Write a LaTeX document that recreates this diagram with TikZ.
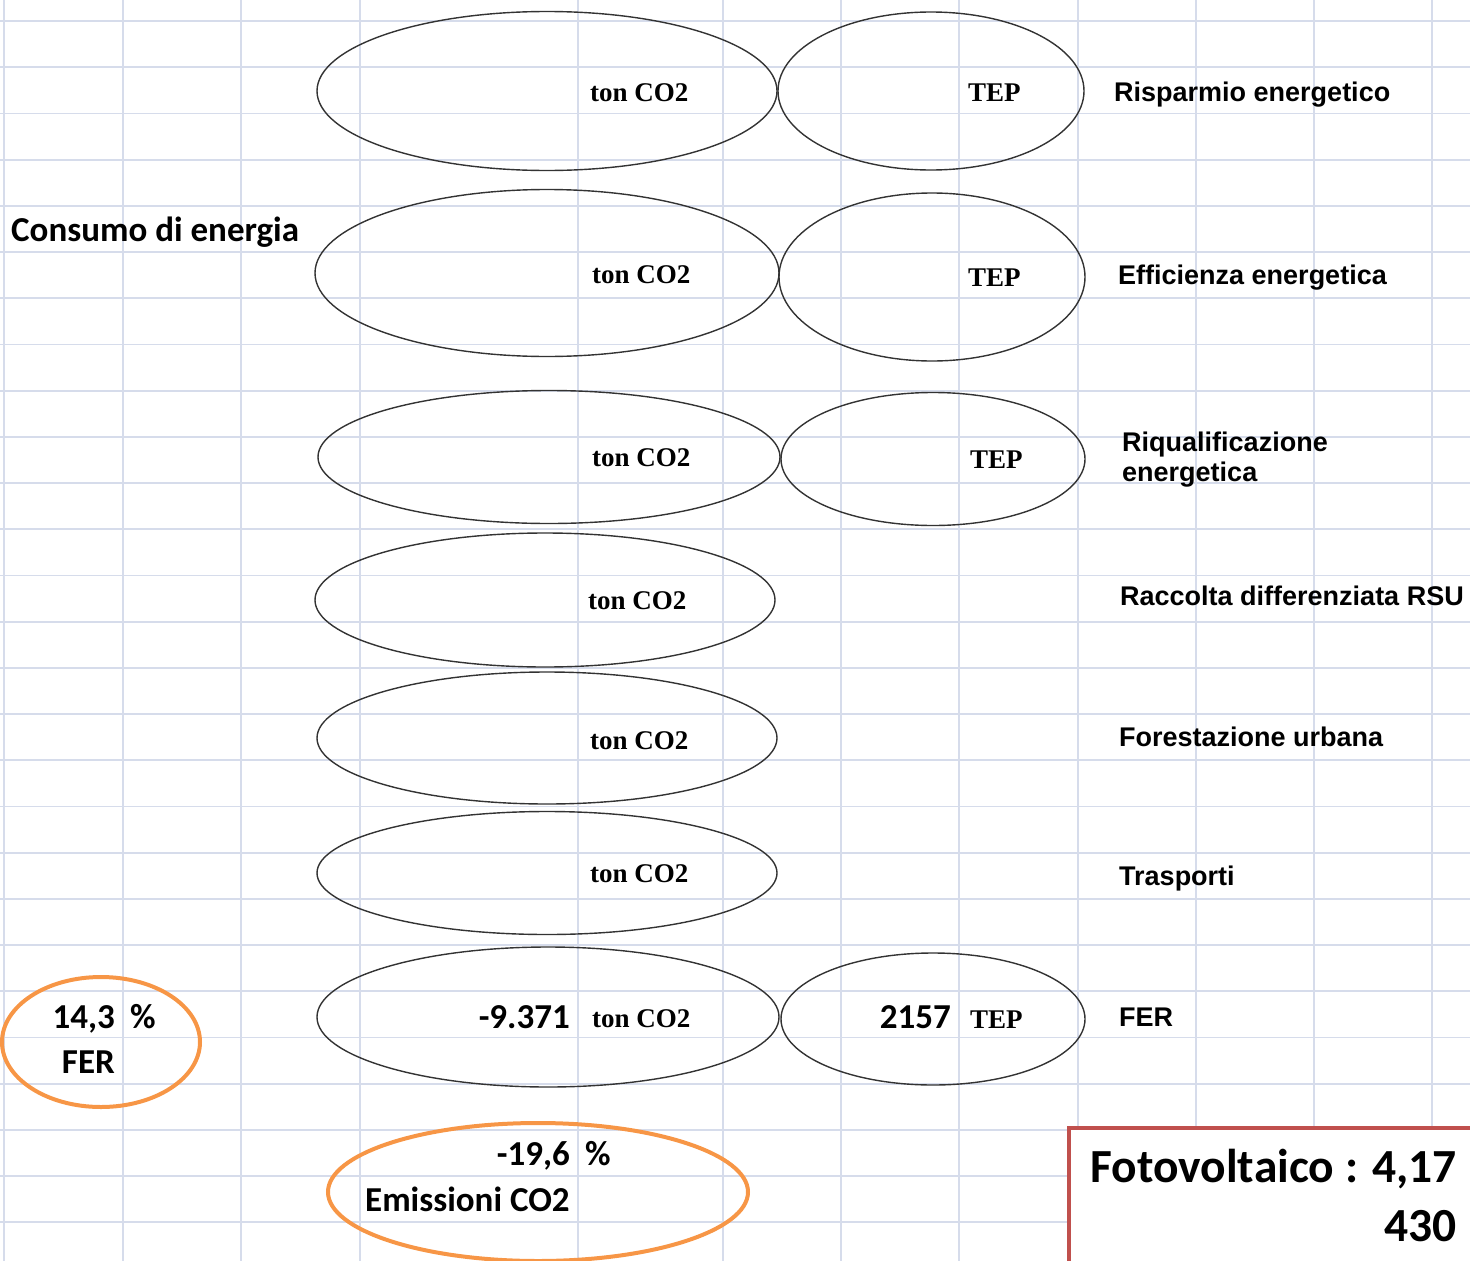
\documentclass[tikz,border=0pt]{standalone}
\usepackage{fontspec}
\setmainfont{Carlito}
\newfontfamily\catfont{Liberation Sans}
\newfontfamily\unitfont{Liberation Serif}
\usetikzlibrary{shapes.geometric,positioning}
\definecolor{gridblue}{RGB}{214,220,235}
\definecolor{ringorange}{RGB}{247,150,70}
\definecolor{boxred}{RGB}{192,80,77}

\begin{document}
\begin{tikzpicture}[x=1pt, y=-1pt,
    gridline/.style={draw=gridblue, line width=1.8pt},
    oval/.style={draw=black!80, ellipse, line width=1.4pt, inner sep=0pt},
    ring/.style={draw=ringorange, ellipse, line width=4pt, inner sep=0pt},
    unittext/.style={font=\unitfont\bfseries\fontsize{27}{30}\selectfont, inner sep=0pt, anchor=base west},
    catlabel/.style={font=\catfont\bfseries\fontsize{27}{32}\selectfont, inner sep=0pt, anchor=base west},
    numtext/.style={font=\bfseries\fontsize{35}{38}\selectfont, inner sep=0pt, anchor=base east},
    plaintext/.style={font=\bfseries\fontsize{35}{38}\selectfont, inner sep=0pt, anchor=base west},
    pvtext/.style={font=\bfseries\fontsize{47.5}{50}\selectfont, inner sep=0pt, anchor=base east}]

\useasboundingbox (0,0) rectangle (1470,1261);
\clip (0,0) rectangle (1470,1261);

\foreach \gx in {4,123,241,360,578,723,841,959,1078,1196,1314,1432}
  \draw[gridline] (\gx,0) -- (\gx,1261);
\foreach \k in {0,...,26}
  \draw[gridline] (0,{21+46.2*\k}) -- (1470,{21+46.2*\k});

\node[oval, minimum width=460pt, minimum height=159pt] (co2risp) at (547,91) {};
\node[oval, minimum width=306pt, minimum height=158pt] (teprisp) at (931,91) {};
\node[oval, minimum width=464pt, minimum height=167pt] (co2eff) at (547,273) {};
\node[oval, minimum width=306pt, minimum height=168pt] (tepeff) at (932,277) {};
\node[oval, minimum width=462pt, minimum height=133pt] (co2riq) at (549,457) {};
\node[oval, minimum width=304pt, minimum height=133pt] (tepriq) at (933,459) {};
\node[oval, minimum width=460pt, minimum height=134pt] (co2rsu) at (545,600) {};
\node[oval, minimum width=460pt, minimum height=132pt] (co2for) at (547,738) {};
\node[oval, minimum width=460pt, minimum height=123pt] (co2tra) at (547,873) {};
\node[oval, minimum width=462pt, minimum height=140pt] (co2fer) at (548,1017) {};
\node[oval, minimum width=304pt, minimum height=132pt] (tepfer) at (933,1019) {};

\node[ring, minimum width=198pt, minimum height=130pt] (ringfer) at (101,1042) {};
\node[ring, minimum width=420pt, minimum height=138pt] (ringco2) at (538,1192) {};

\node[draw=boxred, line width=4pt, fill=white, anchor=north west,
      minimum width=430pt, minimum height=160pt] (pvbox) at (1067,1126) {};

\node[unittext] (u1) at (590,101) {ton CO2};
\node[unittext] (u2) at (592,283) {ton CO2};
\node[unittext] (u3) at (592,466) {ton CO2};
\node[unittext] (u4) at (588,609) {ton CO2};
\node[unittext] (u5) at (590,749) {ton CO2};
\node[unittext] (u6) at (590,882) {ton CO2};
\node[unittext] (u7) at (592,1027) {ton CO2};
\node[unittext] (t1) at (968,101) {TEP};
\node[unittext] (t2) at (968,286) {TEP};
\node[unittext] (t3) at (970,468) {TEP};
\node[unittext] (t7) at (970,1028) {TEP};

\node[catlabel] (risp) at (1114,101) {Risparmio energetico};
\node[catlabel] (eff) at (1118,284) {Efficienza energetica};
\node[catlabel] (riq) at (1122,451) {Riqualificazione};
\node[catlabel] (riq2) at (1122,481) {energetica};
\node[catlabel] (rsu) at (1120,605) {Raccolta differenziata RSU};
\node[catlabel] (fore) at (1119,746) {Forestazione urbana};
\node[catlabel] (trasp) at (1119,885) {Trasporti};
\node[catlabel] (fer) at (1119,1026) {FER};

\node[plaintext] (consumo) at (11,241) {Consumo di energia};

\node[numtext] (co2val) at (570,1028) {-9.371};
\node[numtext] (tepval) at (951,1028) {2157};

\node[numtext] (ferval) at (115,1028) {14,3};
\node[plaintext] (ferpct) at (130,1028) {\%};
\node[numtext] (ferlbl) at (115,1073) {FER};

\node[numtext] (emval) at (570,1165) {-19,6};
\node[plaintext] (empct) at (585,1165) {\%};
\node[plaintext] (emlbl) at (365,1211) {Emissioni CO2};

\node[pvtext] (pv1) at (1457,1182) {Fotovoltaico : 4,17};
\node[pvtext] (pv2) at (1457,1241) {430};

\end{tikzpicture}
\end{document}
